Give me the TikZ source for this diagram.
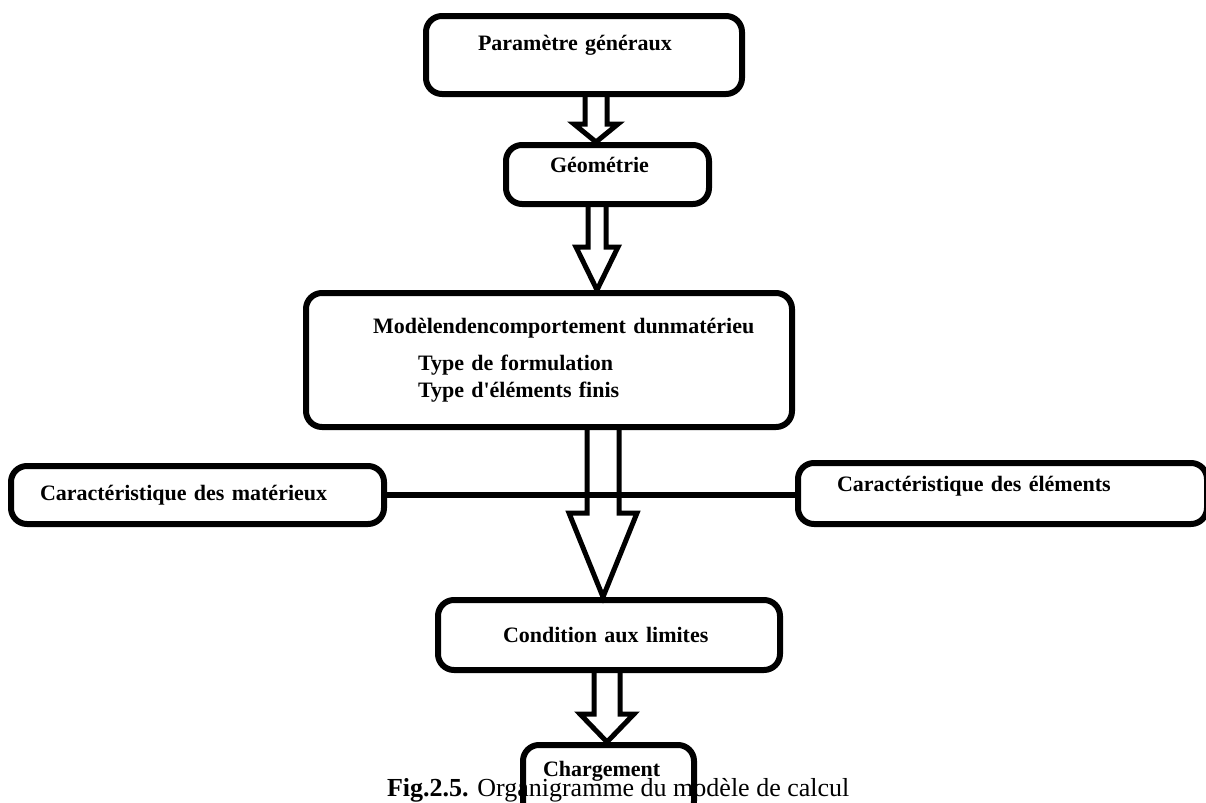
\documentclass[tikz,border=0pt]{standalone}
\usepackage{fontspec}
\setmainfont{Liberation Serif}[Ligatures=TeXOff]
\usetikzlibrary{calc}

% hollow block arrow: x of shaft, from node, to node, shaft half width, head half width, head length
\newcommand{\blockarrow}[6]{%
  \coordinate (arr-s) at (#1,0 |- #2.south);
  \coordinate (arr-t) at (#1,0 |- #3.north);
  \draw[hollow] ($(arr-s)+(-#4,0)$) -- ($(arr-t)+(-#4,-#6)$) -- ($(arr-t)+(-#5,-#6)$)
    -- (arr-t) -- ($(arr-t)+(#5,-#6)$) -- ($(arr-t)+(#4,-#6)$) -- ($(arr-s)+(#4,0)$);
}

\begin{document}
\begin{tikzpicture}[x=0.5pt, y=-0.5pt,
  every node/.style={font=\fontsize{11}{13.5}\selectfont\bfseries},
  box/.style={draw, line width=3pt, rounded corners=8pt, inner sep=0pt, align=left},
  boxdim/.style 2 args={minimum width=#1, text width=#1, minimum height=#2},
  hollow/.style={line width=2.5pt},
  link/.style={line width=3pt}]

  \clip (0,0) rectangle (1206,803);

  % === Caption (partly covered by the last box) ===
  \node[anchor=base west, font=\fontsize{13}{15}\selectfont] (caption) at (380,796)
    {\textbf{Fig.2.5.} Organigramme du modèle de calcul};

  % === Main column ===
  \node[box, boxdim={158pt}{39pt}, text depth=12pt] (param) at (584,55)
    {\hspace*{26pt}Paramètre généraux};
  \node[box, boxdim={101.5pt}{29.5pt}, text depth=10pt] (geo) at (607.5,174.5)
    {\hspace*{22pt}Géométrie};
  \node[box, boxdim={243pt}{67pt}] (model) at (549,360)
    {\hspace*{33.5pt}Modèlendencomportement dunmatérieu\\[5pt]
     \hspace*{56pt}Type de formulation\\
     \hspace*{56pt}Type d'éléments finis};
  \node[box, boxdim={171pt}{35pt}] (cond) at (609,635)
    {\hspace*{32.5pt}Condition aux limites};
  \node[box, boxdim={85.5pt}{36pt}, text depth=12pt] (charg) at (608.5,781)
    {\hspace*{10pt}Chargement};

  % === Side boxes ===
  \node[box, boxdim={186.5pt}{29pt}] (matl) at (197.5,495)
    {\hspace*{14.5pt}Caractéristique des matérieux};
  \node[box, boxdim={204.5pt}{30.5pt}, text depth=9.4pt] (elem) at (1002.5,493.5)
    {\hspace*{19.5pt}Caractéristique des éléments};
  \draw[link] (matl.east) -- (matl.east -| elem.west);

  % === Block arrows ===
  \blockarrow{596}{param}{geo}{11}{22}{18}
  \blockarrow{597}{geo}{model}{9}{21}{43}
  \blockarrow{603}{model}{cond}{16}{34}{84}
  \blockarrow{607}{cond}{charg}{13}{27}{28}

\end{tikzpicture}
\end{document}
